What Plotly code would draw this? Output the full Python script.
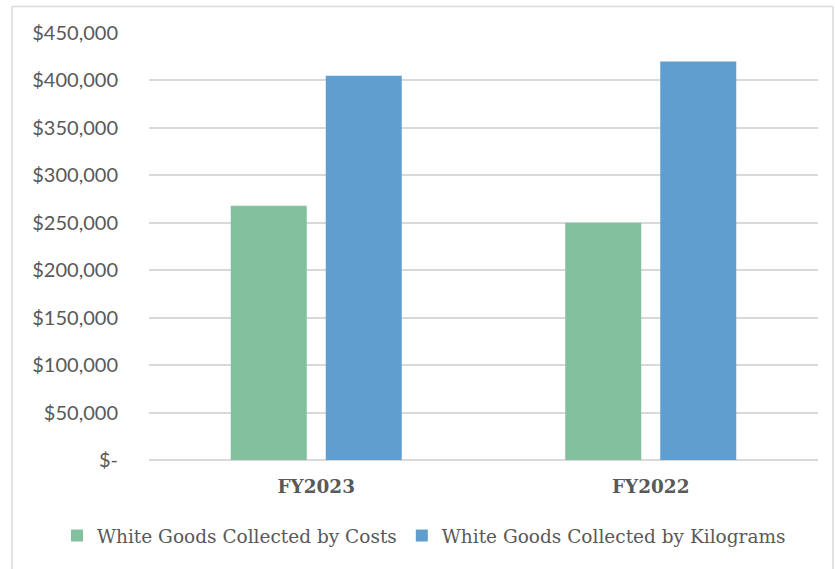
import plotly.graph_objects as go

# Fiscal years and collected white goods values
categories = ["FY2023", "FY2022"]
costs = [268000, 250000]
kilograms = [405000, 420000]

tick_values = [0, 50000, 100000, 150000, 200000, 250000, 300000, 350000, 400000, 450000]
tick_labels = ["$-", "$50,000", "$100,000", "$150,000", "$200,000", "$250,000",
               "$300,000", "$350,000", "$400,000", "$450,000"]

GREEN = "#82C09E"
BLUE = "#5F9ECF"
TEXT = "#595959"
GRID = "#D9D9D9"

PLOT_L, PLOT_R, PLOT_T, PLOT_B = 149, 818, 33, 460
W, H = 835, 569
pw, ph = PLOT_R - PLOT_L, PLOT_B - PLOT_T


def px(x):
    return (x - PLOT_L) / pw


def py(y):
    return (PLOT_B - y) / ph


fig = go.Figure()
fig.add_trace(go.Bar(name="White Goods Collected by Costs", x=categories, y=costs,
                     marker=dict(color=GREEN, line=dict(width=0))))
fig.add_trace(go.Bar(name="White Goods Collected by Kilograms", x=categories, y=kilograms,
                     marker=dict(color=BLUE, line=dict(width=0))))

# chart-area frame: left, top and right edges
frame = dict(color=GRID, width=1.5)
shapes = [
    dict(type="line", xref="paper", yref="paper", x0=px(12), x1=px(12), y0=py(575), y1=py(6.5), line=frame),
    dict(type="line", xref="paper", yref="paper", x0=px(12), x1=px(833), y0=py(6.5), y1=py(6.5), line=frame),
    dict(type="line", xref="paper", yref="paper", x0=px(833), x1=px(833), y0=py(575), y1=py(6.5), line=frame),
]

fig.update_layout(
    width=W, height=H,
    margin=dict(l=PLOT_L, r=W - PLOT_R, t=PLOT_T, b=H - PLOT_B, autoexpand=False),
    paper_bgcolor="white", plot_bgcolor="white",
    barmode="group", bargap=0.432, bargroupgap=0.2,
    showlegend=True,
    legend=dict(orientation="h", x=px(57), xanchor="left", y=py(536), yanchor="middle",
                font=dict(family="DejaVu Serif", size=18.5, color=TEXT),
                itemwidth=30, itemclick=False),
    shapes=shapes,
)

fig.update_xaxes(showgrid=False, showline=False, zeroline=False, ticks="",
                 tickfont=dict(family="DejaVu Serif", size=18.4, color=TEXT, weight="bold"),
                 ticklabelstandoff=14)
fig.update_yaxes(range=[0, 450000], tickvals=tick_values, ticktext=tick_labels,
                 showgrid=True, gridcolor=GRID, gridwidth=1.5,
                 zeroline=True, zerolinecolor=GRID, zerolinewidth=1.5,
                 showline=False, ticks="",
                 tickfont=dict(family="Lato", size=20, color=TEXT),
                 ticklabelstandoff=30)

fig.write_html("out.html")
